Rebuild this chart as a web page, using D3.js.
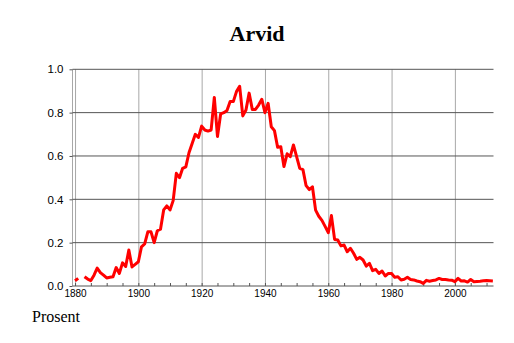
<!DOCTYPE html>
<html>
<head>
<meta charset="utf-8">
<script src="https://cdn.jsdelivr.net/npm/d3@7"></script>
<style>
  body { margin: 0; background: #fff; }
</style>
</head>
<body>
<div id="chart"></div>
<script>
// Chart values (share of name per year)
var years = d3.range(1880, 2013);
var shares = [
  0.024, 0.035, null, 0.043, 0.032, 0.025, 0.05, 0.083, 0.062, 0.05,
  0.037, 0.04, 0.043, 0.085, 0.058, 0.107, 0.09, 0.166, 0.088, 0.1,
  0.112, 0.181, 0.194, 0.25, 0.25, 0.2, 0.255, 0.262, 0.351, 0.37,
  0.351, 0.394, 0.52, 0.5, 0.543, 0.55, 0.615, 0.658, 0.7, 0.686,
  0.738, 0.72, 0.715, 0.72, 0.87, 0.69, 0.794, 0.8, 0.81, 0.851,
  0.851, 0.897, 0.922, 0.785, 0.812, 0.89, 0.815, 0.815, 0.835, 0.862,
  0.8, 0.843, 0.735, 0.717, 0.64, 0.643, 0.551, 0.61, 0.597, 0.651,
  0.597, 0.543, 0.537, 0.463, 0.445, 0.458, 0.35, 0.322, 0.303, 0.275,
  0.246, 0.325, 0.215, 0.212, 0.185, 0.189, 0.158, 0.174, 0.151, 0.123,
  0.132, 0.12, 0.092, 0.105, 0.071, 0.077, 0.058, 0.069, 0.046, 0.058,
  0.058, 0.04, 0.043, 0.028, 0.031, 0.04, 0.03, 0.028, 0.023, 0.02,
  0.012, 0.026, 0.022, 0.025, 0.028, 0.035, 0.03, 0.03, 0.028, 0.027,
  0.02, 0.035, 0.023, 0.024, 0.018, 0.03, 0.02, 0.021, 0.022, 0.024,
  0.025, 0.024, 0.023
];
var yTicks = [0, 0.2, 0.4, 0.6, 0.8, 1.0];
var xTicks = [1880, 1900, 1920, 1940, 1960, 1980, 2000];
var xMinorTicks = d3.range(1880, 2013, 5);
var titleText = "Arvid";
var yLabelText = "Prosent";

// Define SVG area dimensions
var svgWidth = 514;
var svgHeight = 343;

// Plot area edges
var plot = { left: 72.5, right: 493.5, top: 69.3, bottom: 286 };

var svg = d3.select("#chart")
  .append("svg")
  .attr("width", svgWidth)
  .attr("height", svgHeight);

// Scales
var x = d3.scaleLinear().domain([1879.2, 2012.2]).range([plot.left, plot.right]);
var y = d3.scaleLinear().domain([0, 1]).range([plot.bottom, plot.top]);

// Vertical grid lines (light gray)
svg.append("g")
  .attr("transform", `translate(0,${plot.bottom})`)
  .call(d3.axisBottom(x).tickValues(xTicks).tickSize(-(plot.bottom - plot.top)).tickFormat(""))
  .call(g => g.select(".domain").remove())
  .call(g => g.selectAll("line").attr("stroke", "#a8a8a8").attr("stroke-width", 1));

// Left axis line
svg.append("line")
  .attr("x1", plot.left).attr("x2", plot.left)
  .attr("y1", plot.top).attr("y2", plot.bottom)
  .attr("stroke", "#a8a8a8");

// Horizontal grid lines (dark gray) with small outside ticks
svg.append("g")
  .attr("transform", `translate(${plot.left},0)`)
  .call(d3.axisLeft(y).tickValues(yTicks).tickSize(3).tickPadding(6).tickFormat(d3.format(".1f")))
  .call(g => g.select(".domain").remove())
  .call(g => g.selectAll("line").attr("stroke", "#555"))
  .call(g => g.selectAll("text")
    .attr("font-family", "'Liberation Sans', Arial, sans-serif")
    .attr("font-size", 11.5)
    .attr("fill", "#000"));

svg.append("g")
  .selectAll("line")
  .data(yTicks)
  .join("line")
  .attr("x1", plot.left).attr("x2", plot.right)
  .attr("y1", d => y(d)).attr("y2", d => y(d))
  .attr("stroke", "#555");

// Minor ticks on bottom edge, pointing inward
svg.append("g")
  .attr("transform", `translate(0,${plot.bottom})`)
  .call(d3.axisBottom(x).tickValues(xMinorTicks).tickSize(-3).tickFormat(""))
  .call(g => g.select(".domain").remove())
  .call(g => g.selectAll("line").attr("stroke", "#555"));

// Year labels
svg.append("g")
  .attr("transform", `translate(0,${plot.bottom})`)
  .call(d3.axisBottom(x).tickValues(xTicks).tickSize(0).tickPadding(4).tickFormat(d3.format("d")))
  .call(g => g.select(".domain").remove())
  .call(g => g.selectAll("text")
    .attr("font-family", "'Liberation Sans', Arial, sans-serif")
    .attr("font-size", 10)
    .attr("fill", "#000"));

// Data line, with a gap where values are missing
var points = years.map((yr, i) => ({ year: yr, value: shares[i] }));
var line = d3.line()
  .defined(d => d.value !== null)
  .x(d => x(d.year))
  .y(d => y(d.value));

svg.append("path")
  .datum(points)
  .attr("d", line)
  .attr("fill", "none")
  .attr("stroke", "#ff0000")
  .attr("stroke-width", 3)
  .attr("stroke-linejoin", "round");

// Title
svg.append("text")
  .attr("x", 257)
  .attr("y", 41)
  .attr("text-anchor", "middle")
  .attr("font-family", "'Liberation Serif', 'Times New Roman', serif")
  .attr("font-weight", "bold")
  .attr("font-size", 22)
  .text(titleText);

// Unit label below the axis
svg.append("text")
  .attr("x", 32)
  .attr("y", 322)
  .attr("font-family", "'Liberation Serif', 'Times New Roman', serif")
  .attr("font-size", 16)
  .text(yLabelText);
</script>
</body>
</html>
